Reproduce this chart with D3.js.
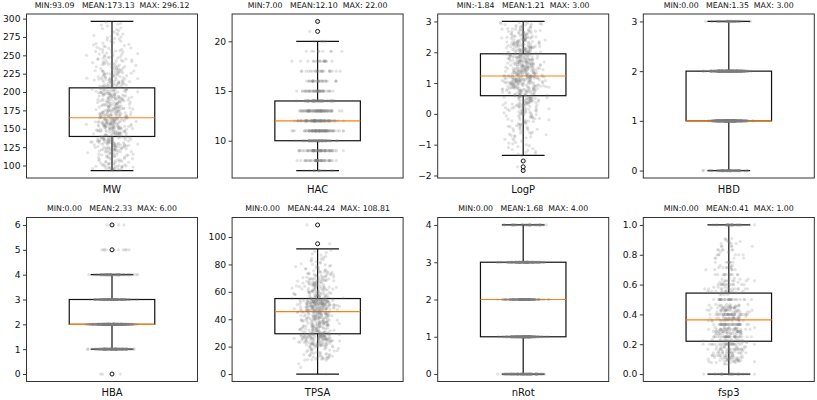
<!DOCTYPE html>
<html><head><meta charset="utf-8">
<script src="https://cdn.jsdelivr.net/npm/d3@7"></script>
<style>
body{margin:0;background:#fff}
svg{display:block;font-family:"DejaVu Sans",sans-serif}
</style>
</head><body>
<svg id="chart" width="817" height="400"></svg>
<script>
// ---------- data ----------
const featureNames = ["MW","HAC","LogP","HBD","HBA","TPSA","nRot","fsp3"];
const minVals  = [93.09, 7.00, -1.84, 0.00, 0.00, 0.00, 0.00, 0.00];
const meanVals = [173.13, 12.10, 1.21, 1.35, 2.33, 44.24, 1.68, 0.41];
const maxVals  = [296.12, 22.00, 3.00, 3.00, 6.00, 108.81, 4.00, 1.00];

const whiskerLo = [93.09, 7, -1.35, 0, 1, 0, 0, 0];
const q1Vals     = [139.5, 10, 0.59, 1, 2, 29.4, 1, 0.22];
const medianVals = [165.0, 12, 1.23, 1, 2, 45.6, 2, 0.363];
const q3Vals     = [205.7, 14, 1.95, 2, 3, 55.1, 3, 0.543];
const whiskerHi = [296.12, 20, 3.00, 3, 4, 91.3, 4, 1.00];
const outlierVals = [[], [21,22], [-1.53,-1.72,-1.84], [], [0,5,6], [95.1,108.81], [], []];

const yTickVals = [
  [100,125,150,175,200,225,250,275,300],
  [10,15,20],
  [-2,-1,0,1,2,3],
  [0,1,2,3],
  [0,1,2,3,4,5,6],
  [0,20,40,60,80,100],
  [0,1,2,3,4],
  [0,0.2,0.4,0.6,0.8,1.0]
];

// scatter distributions (estimated from the jittered points)
const mwBinEdges  = [93.09,100,110,120,130,140,150,160,170,180,190,200,210,220,230,240,250,260,270,280,290,296.12];
const mwBinCounts = [25,25,30,45,50,45,60,55,45,40,45,40,35,30,25,20,17,12,10,8,5];

const hacValues = [7,8,9,10,11,12,13,14,15,16,17,18,19,20,21,22];
const hacCounts = [16,50,65,85,90,95,80,55,45,30,22,18,9,5,1,1];

const logpBinEdges  = [-1.35,-1.25,-1.0,-0.75,-0.5,-0.25,0,0.25,0.5,0.75,1.0,1.25,1.5,1.75,2.0,2.25,2.5,2.75,3.0];
const logpBinCounts = [3,8,10,14,18,22,30,40,45,60,80,65,60,55,50,45,35,24];

const hbdValues = [0,1,2,3];
const hbdCounts = [95,295,225,52];

const hbaValues = [0,1,2,3,4,5,6];
const hbaCounts = [3,120,300,150,80,10,4];

const tpsaBinEdges  = [0,5,10,15,20,25,30,35,40,45,50,55,60,65,70,75,80,85,91.3];
const tpsaBinCounts = [1,2,25,20,50,75,45,50,55,75,100,40,35,35,25,15,10,7];

const nrotValues = [0,1,2,3,4];
const nrotCounts = [100,220,160,150,37];

const fsp3Values = [0,0.067,0.077,0.083,0.091,0.1,0.111,0.125,0.143,0.154,0.167,0.182,0.2,0.214,0.222,0.231,0.25,0.267,0.273,0.286,0.3,0.308,0.313,0.333,0.357,0.364,0.375,0.385,0.4,0.417,0.429,0.444,0.455,0.462,0.467,0.5,0.533,0.545,0.556,0.571,0.583,0.6,0.615,0.625,0.636,0.643,0.667,0.7,0.714,0.727,0.75,0.778,0.8,0.818,0.833,0.857,0.875,0.889,0.9,0.909,1.0];
const fsp3Counts = [30,3,4,6,8,10,12,14,16,6,18,10,25,8,12,6,35,6,10,22,18,6,5,40,8,12,18,5,35,10,18,15,8,5,4,30,4,10,10,12,4,14,3,8,3,2,12,5,6,3,8,4,6,3,6,5,4,3,2,2,30];

// ---------- build point lists ----------
function fromDiscrete(vals, counts){
  const out=[]; vals.forEach((v,i)=>{for(let k=0;k<counts[i];k++) out.push(v);}); return out;
}
function fromBins(edges, counts, extra){
  const out=[];
  counts.forEach((n,i)=>{const lo=edges[i], hi=edges[i+1];
    for(let k=0;k<n;k++) out.push(lo + (k/n)*(hi-lo));});
  return out.concat(extra||[]);
}
const pointSets = [
  fromBins(mwBinEdges, mwBinCounts),
  fromDiscrete(hacValues, hacCounts),
  fromBins(logpBinEdges, logpBinCounts, outlierVals[2]),
  fromDiscrete(hbdValues, hbdCounts),
  fromDiscrete(hbaValues, hbaCounts),
  fromBins(tpsaBinEdges, tpsaBinCounts, outlierVals[5]),
  fromDiscrete(nrotValues, nrotCounts),
  fromDiscrete(fsp3Values, fsp3Counts)
];

// deterministic horizontal spread for the strip (hash -> approx normal); affects x only
function jitter(i, p){
  const s = Math.sin((i+1)*12.9898 + (p+1)*78.233)*43758.5453;
  let u = s - Math.floor(s);
  u = Math.min(Math.max(u, 0.003), 0.997);
  return 4.91*(Math.pow(u,0.14) - Math.pow(1-u,0.14));
}

// ---------- layout ----------
const svg = d3.select("#chart");
const colLeft = [26.5, 232.1, 437.7, 643.3];
const rowTop = [14, 217.5];
const axW = 171, axH = 164;
const fmtTick = [d3.format("d"),d3.format("d"),d3.format("d"),d3.format("d"),d3.format("d"),d3.format("d"),d3.format("d"),d3.format(".1f")];

featureNames.forEach((name, p)=>{
  const left = colLeft[p%4], top = rowTop[Math.floor(p/4)];
  const r = maxVals[p]-minVals[p];
  const y = d3.scaleLinear().domain([minVals[p]-0.05*r, maxVals[p]+0.05*r]).range([top+axH, top]);
  const x = d3.scaleLinear().domain([0.5,1.5]).range([left, left+axW]);
  const g = svg.append("g");

  // axis
  const ax = g.append("g").attr("transform",`translate(${left},0)`)
    .call(d3.axisLeft(y).tickValues(yTickVals[p]).tickFormat(fmtTick[p]).tickSize(3.5).tickPadding(2.5));
  ax.select(".domain").remove();
  ax.selectAll(".tick line").attr("stroke","#222").attr("stroke-width",0.9);
  ax.selectAll(".tick text").attr("font-size",9.2).attr("fill","#111").attr("font-family","DejaVu Sans");

  // box
  const bw = 0.25, cw = 0.125;
  const bx = g.append("g").attr("fill","none").attr("stroke","#111").attr("stroke-width",1.2);
  bx.append("rect").attr("x",x(1-bw)).attr("width",x(1+bw)-x(1-bw))
    .attr("y",y(q3Vals[p])).attr("height",y(q1Vals[p])-y(q3Vals[p]));
  bx.append("line").attr("x1",x(1)).attr("x2",x(1)).attr("y1",y(q1Vals[p])).attr("y2",y(whiskerLo[p]));
  bx.append("line").attr("x1",x(1)).attr("x2",x(1)).attr("y1",y(q3Vals[p])).attr("y2",y(whiskerHi[p]));
  bx.append("line").attr("x1",x(1-cw)).attr("x2",x(1+cw)).attr("y1",y(whiskerLo[p])).attr("y2",y(whiskerLo[p]));
  bx.append("line").attr("x1",x(1-cw)).attr("x2",x(1+cw)).attr("y1",y(whiskerHi[p])).attr("y2",y(whiskerHi[p]));
  g.append("line").attr("x1",x(1-bw)).attr("x2",x(1+bw)).attr("y1",y(medianVals[p])).attr("y2",y(medianVals[p]))
    .attr("stroke","#ff7f0e").attr("stroke-width",1.2);
  g.append("g").selectAll("circle").data(outlierVals[p]).join("circle")
    .attr("cx",x(1)).attr("cy",d=>y(d)).attr("r",2)
    .attr("fill","none").attr("stroke","#111").attr("stroke-width",1);

  // jittered points
  g.append("g").selectAll("circle").data(pointSets[p]).join("circle")
    .attr("cx",(d,i)=>x(1+0.055*jitter(i,p))).attr("cy",d=>y(d)).attr("r",1.6)
    .attr("fill","#808080").attr("fill-opacity",0.22);

  // frame
  g.append("rect").attr("x",left).attr("y",top).attr("width",axW).attr("height",axH)
    .attr("fill","none").attr("stroke","#333").attr("stroke-width",1);

  // title and label
  const fmt2 = d3.format(".2f");
  g.append("text").attr("x",left+axW/2).attr("y",top-6.5).attr("text-anchor","middle")
    .attr("font-size",7.8).attr("fill","#111").style("white-space","pre")
    .text(`MIN:${fmt2(minVals[p]).replace("−","-")}   MEAN:${fmt2(meanVals[p])}  MAX: ${fmt2(maxVals[p])}`);
  g.append("text").attr("x",left+axW/2).attr("y",top+axH+14.5).attr("text-anchor","middle")
    .attr("font-size",10).attr("fill","#111").text(name);
});
</script>
</body></html>
